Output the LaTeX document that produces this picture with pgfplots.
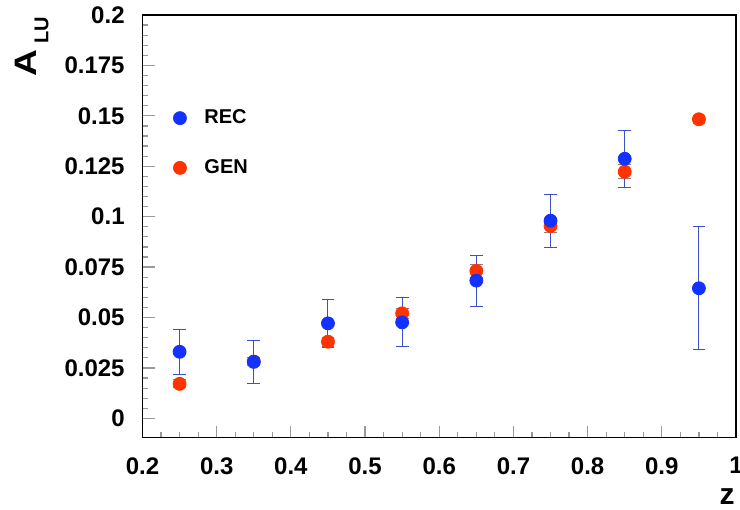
\documentclass[border=0pt]{standalone}
\usepackage{pgfplots}
\pgfplotsset{compat=1.18}
\usepackage{pgfplotstable}
\usepackage{fontspec}
\setmainfont{Liberation Sans}
\definecolor{recblue}{RGB}{20,50,255}
\definecolor{genred}{RGB}{255,51,0}
\definecolor{errblue}{RGB}{60,80,200}
\definecolor{errgen}{RGB}{160,120,120}
\pgfplotstableread{
x y ey
0.25 0.0330 0.0111
0.35 0.0280 0.0105
0.45 0.0471 0.0119
0.55 0.0476 0.0122
0.65 0.0683 0.0126
0.75 0.0980 0.0132
0.85 0.1287 0.0141
0.95 0.0645 0.0305
}\rec
\pgfplotstableread{
x y ey
0.25 0.0171 0.0020
0.35 0.0282 0.0020
0.45 0.0380 0.0022
0.55 0.0521 0.0025
0.65 0.0731 0.0033
0.75 0.0954 0.0033
0.85 0.1223 0.0035
0.95 0.1483 0.0020
}\gen
\begin{document}
\begin{tikzpicture}
\begin{axis}[
  name=ax,
  scale only axis,
  width=296.75pt, height=211.35pt,
  xmin=0.2, xmax=1, ymin=-0.0096, ymax=0.2,
  axis line style={line width=0.75pt},
  xtick={0.2,0.3,...,1.0},
  xticklabels={0.2,0.3,0.4,0.5,0.6,0.7,0.8,0.9,1},
  ytick={0,0.025,0.05,0.075,0.1,0.125,0.15,0.175,0.2},
  yticklabels={0,0.025,0.05,0.075,0.1,0.125,0.15,0.175,0.2},
  minor x tick num=3, minor y tick num=4,
  xtick pos=bottom, ytick pos=left,
  tick align=inside,
  major tick length=6pt, minor tick length=2.8pt,
  every tick/.style={gray!80, line width=0.6pt},
  xticklabel style={font=\fontsize{12}{12}\selectfont\bfseries, inner sep=0pt, anchor=north, yshift=-9.6pt},
  yticklabel style={font=\fontsize{12}{12}\selectfont\bfseries, inner sep=0pt, anchor=east, xshift=-8.75pt},
  xlabel={z},
  xlabel style={font=\fontsize{15}{15}\selectfont\bfseries, inner sep=0pt, at={(1,0)}, anchor=south east, yshift=-33.6pt, xshift=-0.5pt},
  legend style={draw=none, fill=none, at={(0.0515,0.7865)}, anchor=north west,
    font=\fontsize{10}{10}\selectfont\bfseries, row sep=12.4pt, column sep=7pt, inner sep=0pt},
  legend cell align=left,
  error bars/y dir=both, error bars/y explicit,
]
\addlegendimage{only marks, mark=*, mark size=3.25pt, color=recblue}
\addlegendentry{REC}
\addlegendimage{only marks, mark=*, mark size=3.25pt, color=genred}
\addlegendentry{GEN}
\addplot[forget plot, only marks, mark=*, mark size=3.25pt, color=genred,
  error bars/error bar style={color=errgen, line width=0.5pt},
  error bars/error mark options={rotate=90, mark size=3.2pt, line width=0.5pt, color=errgen}]
  table[x=x, y=y, y error=ey] {\gen};
\addplot[forget plot, only marks, mark=*, mark size=3.25pt, color=recblue,
  error bars/error bar style={color=errblue, line width=0.5pt},
  error bars/error mark options={rotate=90, mark size=3.2pt, line width=0.5pt, color=errblue}]
  table[x=x, y=y, y error=ey] {\rec};
\end{axis}
\node[rotate=90, anchor=north east, inner sep=0pt, font=\bfseries]
  at ([shift={(-63.75pt,-0.8pt)}]ax.north west)
  {\fontsize{15.5}{15.5}\selectfont\scalebox{1.2}[1]{A}\kern3pt\raisebox{-5.8pt}{\fontsize{10}{10}\selectfont LU}};
\pgfresetboundingbox
\path[use as bounding box] ([shift={(-71.25pt,-35.65pt)}]ax.south west) rectangle ([shift={(2pt,7.5pt)}]ax.north east);
\end{tikzpicture}
\end{document}
